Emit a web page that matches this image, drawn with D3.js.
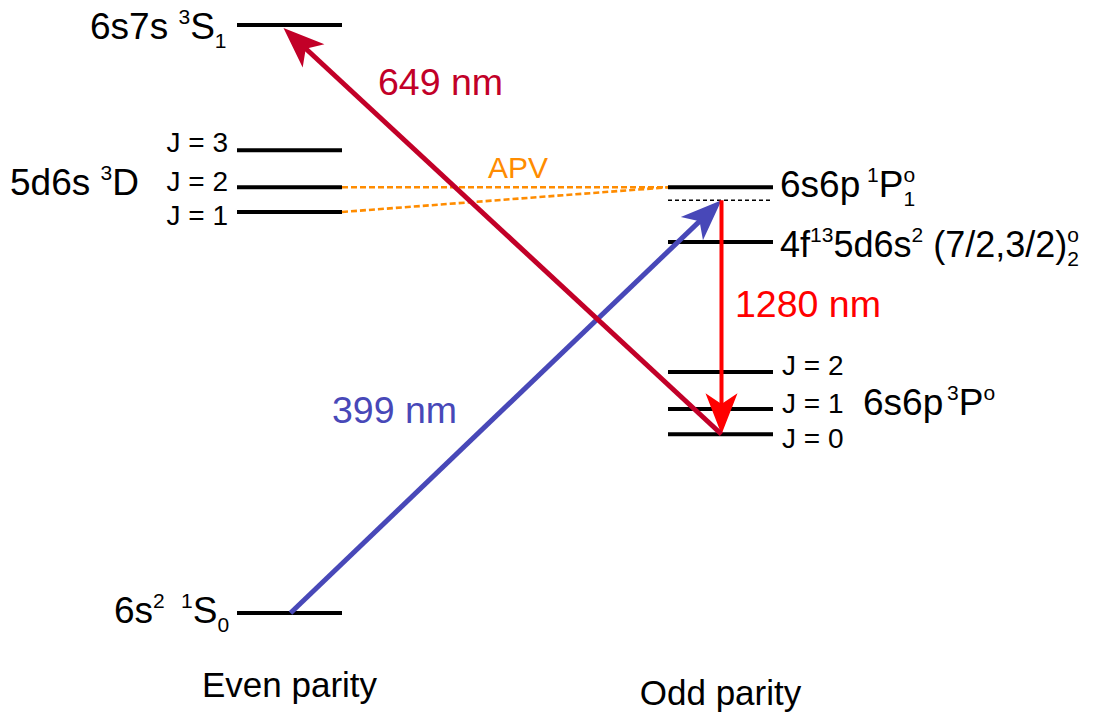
<!DOCTYPE html>
<html>
<head>
<meta charset="utf-8">
<script src="https://cdn.jsdelivr.net/npm/d3@7/dist/d3.min.js"></script>
<style>
  html, body { margin: 0; padding: 0; background: #fff; }
  svg { display: block; font-family: "Liberation Sans", Arial, Helvetica, sans-serif; }
</style>
</head>
<body>
<svg id="chart" width="1096" height="714"></svg>
<script>
// ---------- data ----------
const columnLabels = ["Even parity", "Odd parity"];
const levelIds      = ["3S1", "3D3", "3D2", "3D1", "1S0", "1P1", "virt", "4f", "3P2", "3P1", "3P0"];
const levelColumn   = [0, 0, 0, 0, 0, 1, 1, 1, 1, 1, 1];
const levelEnergy   = [100, 78.7, 72.4, 68.2, 0, 72.4, 70.2, 63.1, 41.0, 34.7, 30.4]; // schematic units
const transitionFrom  = ["1S0", "virt", "3P0"];
const transitionTo    = ["virt", "3P0", "3S1"];
const transitionLabel = ["399 nm", "1280 nm", "649 nm"];
const apvFrom = ["3D2", "3D1"];
const apvTo   = ["1P1", "1P1"];
const apvLabel = "APV";
const jLabelsLeft  = ["J = 3", "J = 2", "J = 1"];
const jLabelsRight = ["J = 2", "J = 1", "J = 0"];

// ---------- scales ----------
const svg = d3.select("#chart");
const x = d3.scalePoint().domain(columnLabels).range([289.5, 720.5]);
const y = d3.scaleLinear().domain([0, 100]).range([613, 25]);
const halfW = 52.5;

const levels = levelIds.map((id, i) => ({ id, col: columnLabels[levelColumn[i]], e: levelEnergy[i] }));
const L = Object.fromEntries(levels.map(d => [d.id, d]));

// ---------- level lines ----------
svg.append("g").selectAll("line").data(levels).join("line")
  .attr("x1", d => x(d.col) - halfW)
  .attr("x2", d => x(d.col) + halfW)
  .attr("y1", d => y(d.e))
  .attr("y2", d => y(d.e))
  .attr("stroke", "#000")
  .attr("stroke-width", d => d.id === "virt" ? 1.6 : 4)
  .attr("stroke-dasharray", d => d.id === "virt" ? "4,3" : null);

// ---------- APV dashed links ----------
const apv = apvFrom.map((f, i) => ({ a: L[f], b: L[apvTo[i]] }));
svg.append("g").selectAll("line").data(apv).join("line")
  .attr("x1", d => x(d.a.col) + halfW)
  .attr("y1", d => y(d.a.e))
  .attr("x2", d => x(d.b.col) - halfW)
  .attr("y2", d => y(d.b.e))
  .attr("stroke", "#ff8c00")
  .attr("stroke-width", 2.6)
  .attr("stroke-dasharray", "6,3");

// ---------- arrows ----------
const arrowColors = ["#4848b8", "#ff0000", "#c20028"];
const arrowWidths = [5, 4, 5];
function arrow(g, x1, y1, x2, y2, color, w, hl, hw) {
  const dx = x2 - x1, dy = y2 - y1, len = Math.hypot(dx, dy);
  const ux = dx / len, uy = dy / len;
  const bx = x2 - ux * hl, by = y2 - uy * hl;
  g.append("line").attr("x1", x1).attr("y1", y1)
    .attr("x2", x2 - ux * hl * 0.7).attr("y2", y2 - uy * hl * 0.7)
    .attr("stroke", color).attr("stroke-width", w);
  const px = -uy, py = ux;
  g.append("path")
    .attr("d", `M${x2},${y2}L${bx + px * hw / 2},${by + py * hw / 2}L${x2 - ux * hl * 0.74},${y2 - uy * hl * 0.74}L${bx - px * hw / 2},${by - py * hw / 2}Z`)
    .attr("fill", color);
}
const ag = svg.append("g");
transitionFrom.forEach((f, i) => {
  const a = L[f], b = L[transitionTo[i]];
  let x1 = x(a.col) + 1, y1 = y(a.e), x2 = x(b.col) + 1, y2 = y(b.e);
  if (i === 2) { x2 -= 7; y2 += 3; }
  arrow(ag, x1, y1, x2, y2, arrowColors[i], arrowWidths[i], 41, 32);
});

// ---------- rich text helper ----------
const SUP = 21;
function rich(x0, y0, parts, size, fill, anchor) {
  const t = svg.append("text").attr("x", x0).attr("y", y0)
    .attr("font-size", size).attr("fill", fill || "#000")
    .attr("text-anchor", anchor || "start");
  parts.forEach(p => {
    const s = t.append("tspan").text(p.t).attr("xml:space", "preserve");
    if (p.k === "sup") s.attr("font-size", SUP).attr("y", y0 - 15);
    else if (p.k === "sub") s.attr("font-size", SUP).attr("y", y0 + 9);
    else s.attr("y", y0);
    if (p.x != null) s.attr("x", p.x);
    if (p.dx != null) s.attr("dx", p.dx);
  });
  return t;
}
const N = t => ({ t, k: "n" });
const stackDx = -0.556 * SUP;

// left labels
const left0 = x(columnLabels[0]) - halfW;
const right0 = x(columnLabels[1]) + halfW;
const FS = 37;
rich(90, y(L["3S1"].e) + 14, [N("6s7s "), { t: "3", k: "sup" }, N("S"), { t: "1", k: "sub" }], FS);
rich(10, 195, [N("5d6s "), { t: "3", k: "sup" }, N("D")], FS);
["3D3", "3D2", "3D1"].forEach((id, i) => {
  const off = [2, 4, 13][i];
  rich(left0 - 9, y(L[id].e) + off, [N(jLabelsLeft[i])], 28, "#000", "end");
});
rich(114, y(L["1S0"].e) + 10, [N("6s"), { t: "2", k: "sup" }, { t: "1", k: "sup", x: 181 }, N("S"), { t: "0", k: "sub" }], FS);

// right labels
rich(right0 + 7, y(L["1P1"].e) + 10, [N("6s6p"), { t: "1", k: "sup", x: 867 }, N("P"), { t: "o", k: "sup" }, { t: "1", k: "sub", dx: stackDx }], FS);
rich(right0 + 7, y(L["4f"].e) + 15, [N("4f"), { t: "13", k: "sup" }, N("5d6s"), { t: "2", k: "sup" }, N(" (7/2,3/2)"), { t: "o", k: "sup" }, { t: "2", k: "sub", dx: stackDx }], FS - 1);
["3P2", "3P1", "3P0"].forEach((id, i) => {
  const off = [3, 4, 14][i];
  rich(right0 + 9, y(L[id].e) + off, [N(jLabelsRight[i])], 28);
});
rich(863, 415, [N("6s6p"), { t: "3", k: "sup", x: 947 }, N("P"), { t: "o", k: "sup" }], FS);

// transition labels
rich(332, 423, [N(transitionLabel[0])], 37.5, arrowColors[0]);
rich(735, 317, [N(transitionLabel[1])], 37.5, arrowColors[1]);
rich(378, 95, [N(transitionLabel[2])], 37.5, arrowColors[2]);
rich(488, 178, [N(apvLabel)], 30, "#ff8c00");

// column labels
svg.append("g").selectAll("text").data(columnLabels).join("text")
  .attr("x", d => x(d))
  .attr("y", (d, i) => [697, 705][i])
  .attr("text-anchor", "middle")
  .attr("font-size", 35)
  .text(d => d);
</script>
</body>
</html>
